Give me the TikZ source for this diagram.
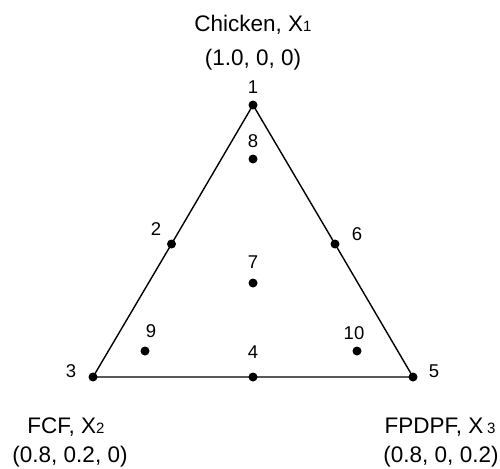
\documentclass[tikz,border=0pt]{standalone}
\usepackage{fontspec}
\setmainfont{Liberation Sans}
\begin{document}
\begin{tikzpicture}[x=1pt,y=-1pt,
  dotpt/.style={circle,fill=black,inner sep=0pt,minimum size=9pt},
  numlabel/.style={font=\fontsize{18.5}{18.5}\selectfont,inner sep=0pt},
  captext/.style={font=\fontsize{22.5}{22.5}\selectfont,inner sep=0pt,anchor=base},
  edgeline/.style={line width=1.4pt}]
\useasboundingbox (0,0) rectangle (500,468);
\newcommand{\smallsub}[1]{{\fontsize{15}{15}\selectfont #1}}
% vertices and points
\node[dotpt] (p1) at (253,105) {};
\node[dotpt] (p2) at (171.5,244) {};
\node[dotpt] (p3) at (93,377) {};
\node[dotpt] (p4) at (253,377) {};
\node[dotpt] (p5) at (413,377) {};
\node[dotpt] (p6) at (335,244) {};
\node[dotpt] (p7) at (253,283) {};
\node[dotpt] (p8) at (253,159) {};
\node[dotpt] (p9) at (145,351) {};
\node[dotpt] (p10) at (357,351) {};
% triangle edges
\draw[edgeline] (p1.center) -- (p2.center) -- (p3.center) -- (p4.center) -- (p5.center) -- (p6.center) -- (p1.center);
% point labels
\node[numlabel] (l1) at (253,87) {1};
\node[numlabel] (l8) at (253,141) {8};
\node[numlabel] (l2) at (156,229) {2};
\node[numlabel] (l6) at (357,234) {6};
\node[numlabel] (l7) at (253,262) {7};
\node[numlabel] (l9) at (151,331) {9};
\node[numlabel] (l10) at (354,333) {10};
\node[numlabel] (l4) at (253,352) {4};
\node[numlabel] (l3) at (71,371) {3};
\node[numlabel] (l5) at (434,371) {5};
% vertex captions
\node[captext] (c1) at (253,32) {Chicken, X\smallsub{1}};
\node[captext] (k1) at (253,66) {(1.0, 0, 0)};
\node[captext] (c2) at (66,433) {FCF, X\smallsub{2}};
\node[captext] (k2) at (70,462.5) {(0.8, 0.2, 0)};
\node[captext] (c3) at (440,433) {FPDPF, X\,\smallsub{3}};
\node[captext] (k3) at (441,462.5) {(0.8, 0, 0.2)};
\end{tikzpicture}
\end{document}
